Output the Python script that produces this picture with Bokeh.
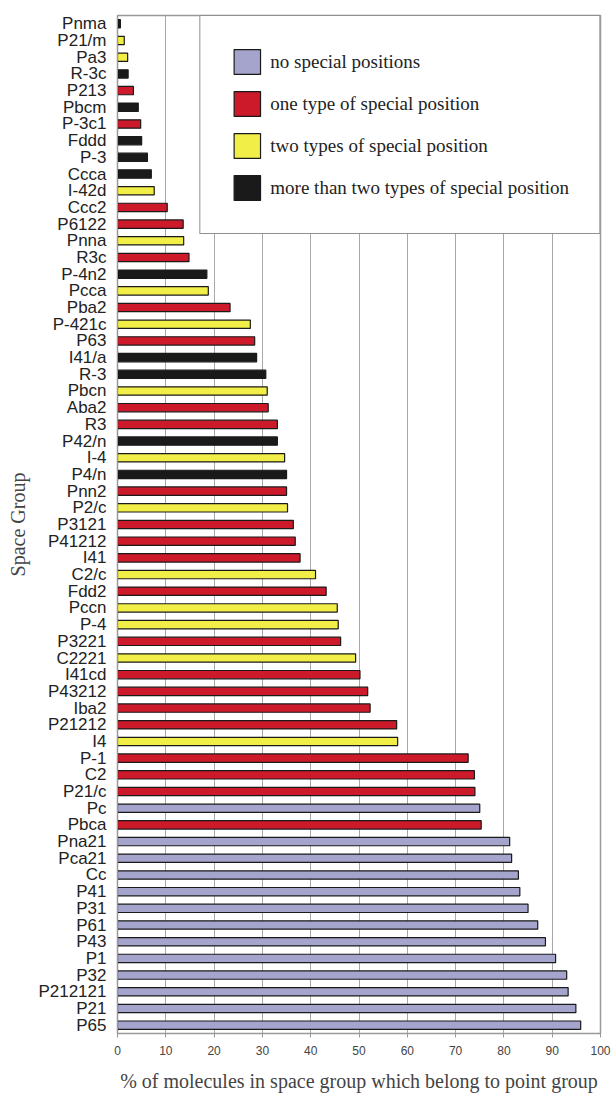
from bokeh.plotting import figure
from bokeh.models import FactorRange, ColumnDataSource, Legend, LegendItem, FixedTicker
from bokeh.embed import file_html
from bokeh.resources import INLINE

# Space groups, top to bottom as shown
groups = ["Pnma", "P21/m", "Pa3", "R-3c", "P213", "Pbcm", "P-3c1", "Fddd", "P-3", "Ccca",
          "I-42d", "Ccc2", "P6122", "Pnna", "R3c", "P-4n2", "Pcca", "Pba2", "P-421c", "P63",
          "I41/a", "R-3", "Pbcn", "Aba2", "R3", "P42/n", "I-4", "P4/n", "Pnn2", "P2/c",
          "P3121", "P41212", "I41", "C2/c", "Fdd2", "Pccn", "P-4", "P3221", "C2221", "I41cd",
          "P43212", "Iba2", "P21212", "I4", "P-1", "C2", "P21/c", "Pc", "Pbca", "Pna21",
          "Pca21", "Cc", "P41", "P31", "P61", "P43", "P1", "P32", "P212121", "P21", "P65"]

percent = [0.6, 1.4, 2.1, 2.2, 3.3, 4.3, 4.8, 5.0, 6.2, 7.0,
           7.6, 10.3, 13.6, 13.7, 14.8, 18.5, 18.8, 23.3, 27.5, 28.4,
           28.8, 30.7, 31.0, 31.2, 33.1, 33.1, 34.6, 35.0, 35.0, 35.2,
           36.4, 36.8, 37.8, 41.0, 43.2, 45.5, 45.7, 46.2, 49.3, 50.2,
           51.8, 52.3, 57.8, 58.0, 72.6, 73.9, 74.0, 75.0, 75.3, 81.2,
           81.6, 83.0, 83.3, 85.0, 87.0, 88.6, 90.7, 93.0, 93.3, 94.9, 95.9]

# special position type: 0 none, 1 one, 2 two, 3 more than two
special = [3, 2, 2, 3, 1, 3, 1, 3, 3, 3,
           2, 1, 1, 2, 1, 3, 2, 1, 2, 1,
           3, 3, 2, 1, 1, 3, 2, 3, 1, 2,
           1, 1, 1, 2, 1, 2, 2, 1, 2, 1,
           1, 1, 1, 2, 1, 1, 1, 0, 1, 0,
           0, 0, 0, 0, 0, 0, 0, 0, 0, 0, 0]

legend_labels = ["no special positions", "one type of special position",
                 "two types of special position", "more than two types of special position"]
bar_colors = ["#a4a4cc", "#cc1a2a", "#f2ee48", "#1a1a1a"]

p = figure(width=613, height=1098, output_backend="svg", toolbar_location=None,
           y_range=FactorRange(*reversed(groups)), x_range=(0, 100),
           min_border_left=117, min_border_right=13, min_border_top=15, min_border_bottom=65)
p.y_range.range_padding = 0

items = []
for k in range(4):
    src = ColumnDataSource(dict(
        y=[g for g, s in zip(groups, special) if s == k],
        x=[v for v, s in zip(percent, special) if s == k]))
    r = p.hbar(y="y", right="x", left=0, height=0.5, source=src,
               fill_color=bar_colors[k], line_color="#1a1a1a", line_width=1.2)
    items.append(LegendItem(label=legend_labels[k], renderers=[r]))

legend = Legend(items=items, location="top_right", margin=0, padding=30, spacing=11,
                glyph_width=33, glyph_height=31, label_height=31, label_standoff=7,
                label_text_font="Liberation Serif", label_text_font_size="19px",
                label_text_color="#222222",
                border_line_color="#222222", border_line_width=1.5,
                background_fill_alpha=1.0)
p.add_layout(legend)

p.xgrid.grid_line_color = "#a8a8a8"
p.xgrid.grid_line_width = 1
p.ygrid.grid_line_color = None
p.outline_line_color = "#999999"
p.outline_line_width = 1.5

p.xaxis.ticker = FixedTicker(ticks=list(range(0, 101, 10)))
p.xaxis.axis_label = "% of molecules in space group which belong to point group"
p.xaxis.axis_label_text_font = "Liberation Serif"
p.xaxis.axis_label_text_font_style = "normal"
p.xaxis.axis_label_text_font_size = "20px"
p.xaxis.axis_label_standoff = 12
p.xaxis.major_label_text_font = "Liberation Sans"
p.xaxis.major_label_text_font_size = "12px"
p.xaxis.major_label_standoff = 8
p.xaxis.axis_line_color = "#999999"
p.xaxis.major_tick_line_color = "#999999"
p.xaxis.minor_tick_line_color = None
p.xaxis.major_tick_in = 0
p.xaxis.major_tick_out = 4

p.yaxis.axis_label = "Space Group"
p.yaxis.axis_label_text_font = "Liberation Serif"
p.yaxis.axis_label_text_font_style = "normal"
p.yaxis.axis_label_text_font_size = "20px"
p.yaxis.axis_label_standoff = 6
p.yaxis.major_label_text_font = "Liberation Sans"
p.yaxis.major_label_text_font_size = "17px"
p.yaxis.major_label_text_color = "#222222"
p.yaxis.axis_line_color = "#999999"
p.yaxis.major_tick_line_color = None
p.yaxis.major_label_standoff = 5

open("out.html", "w").write(file_html(p, INLINE))
